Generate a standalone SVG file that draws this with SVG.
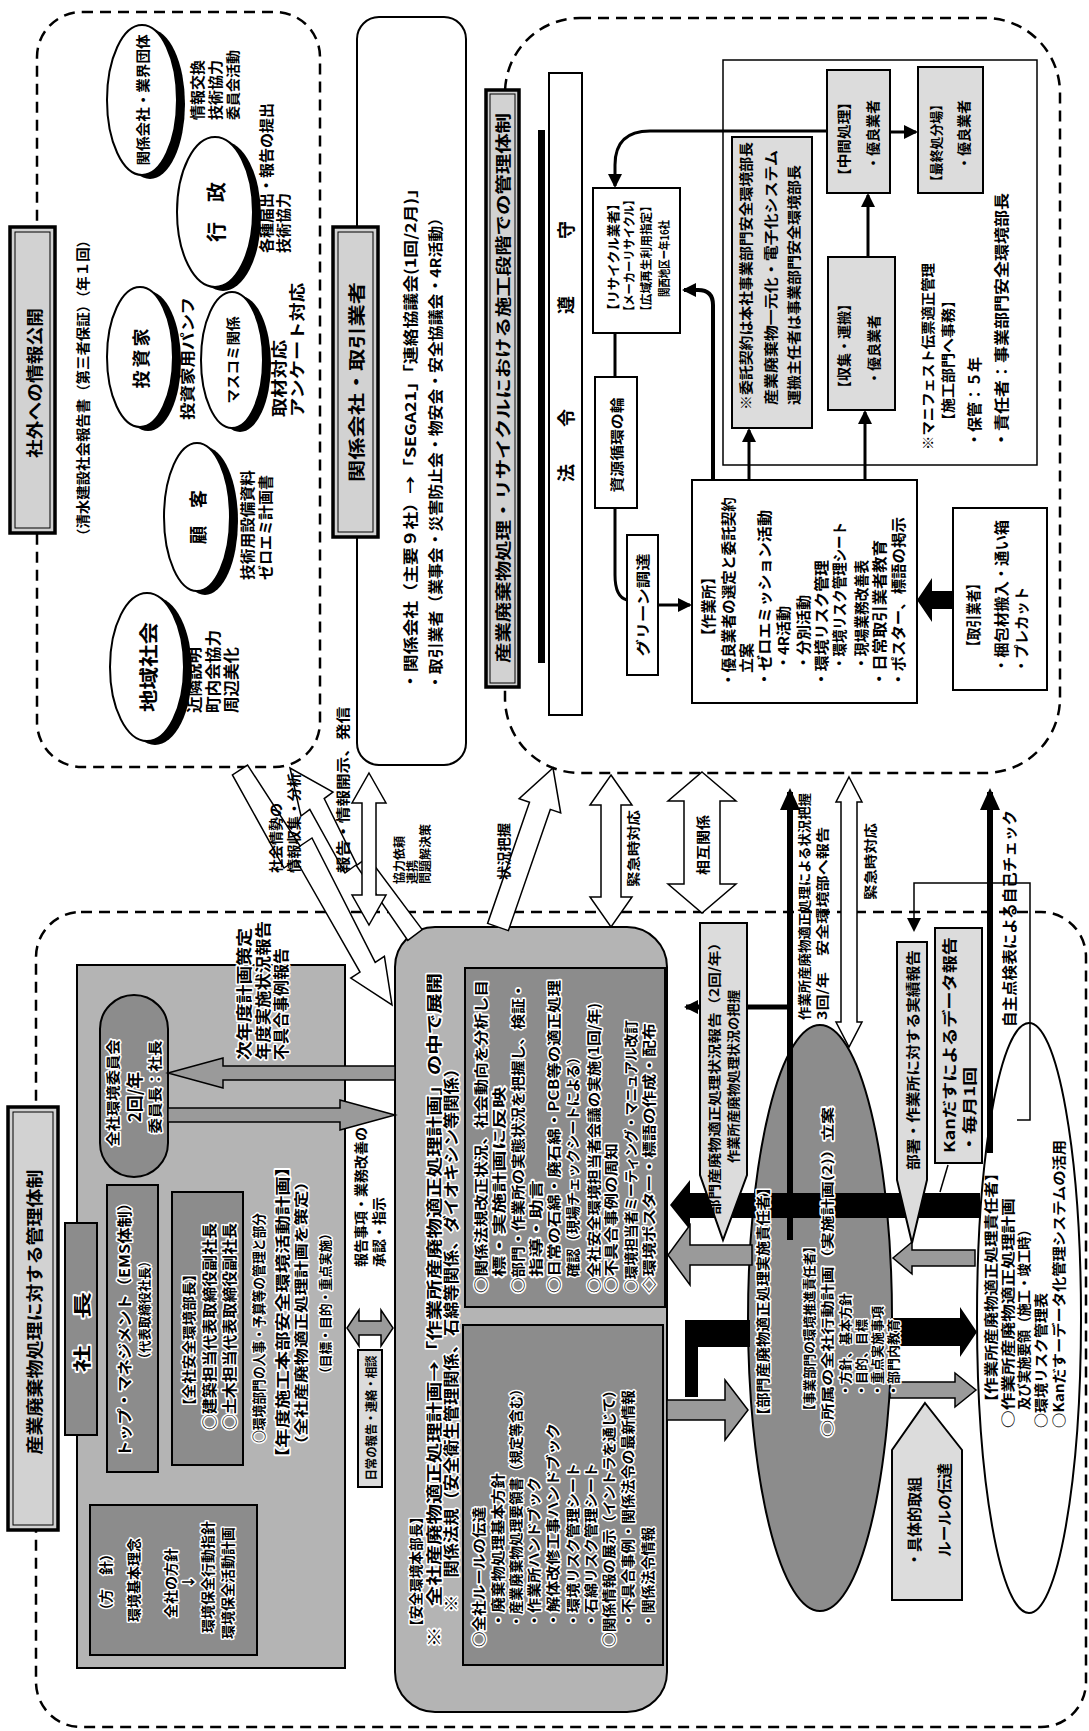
<svg xmlns="http://www.w3.org/2000/svg" width="1089" height="1731" viewBox="0 0 1089 1731">
<defs>
<style>
text{font-family:"Noto Sans CJK JP","Noto Sans CJK SC",sans-serif;font-weight:700;fill:#000;dominant-baseline:central}
.h text{stroke:#fff;stroke-width:3;paint-order:stroke;stroke-linejoin:round}
.dash{fill:none;stroke:#000;stroke-width:2.5;stroke-dasharray:11 7}
.box{fill:#fff;stroke:#000;stroke-width:2}
.lt{fill:#dcdcdc;stroke:#000;stroke-width:2}
.md{fill:#b4b4b4;stroke:#000;stroke-width:2}
.dk{fill:#8c8c8c;stroke:#000;stroke-width:2}
.ttl{fill:#d2d2d2;stroke:#000;stroke-width:3.5}
.ttli{fill:none;stroke:#000;stroke-width:1}
.ln{fill:none;stroke:#000;stroke-width:3}
.thin{fill:none;stroke:#000;stroke-width:1.5}
.wa{fill:#fff;stroke:#000;stroke-width:1.5}
.ga{fill:#9a9a9a;stroke:#000;stroke-width:1.5}
</style>
<marker id="ah" markerUnits="userSpaceOnUse" markerWidth="14" markerHeight="14" refX="12" refY="7" orient="auto"><path d="M0,0 L14,7 L0,14 z"/></marker>
<marker id="ahL" markerUnits="userSpaceOnUse" markerWidth="22" markerHeight="20" refX="18" refY="10" orient="auto"><path d="M0,0 L22,10 L0,20 z"/></marker>
</defs>
<rect width="1089" height="1731" fill="#fff"/>

<!-- ===== Region A : 社外への情報公開 ===== -->
<g id="regionA-frame"><rect class="dash" x="37" y="12" width="283" height="755" rx="45"/></g>
<g id="title-shagai">
<rect class="ttl" x="10" y="227" width="45" height="306"/><rect class="ttli" x="15" y="232" width="35" height="296"/>
<g transform="rotate(-90)"><text x="-383" y="33" font-size="17" text-anchor="middle" textLength="150" lengthAdjust="spacingAndGlyphs">社外への情報公開</text></g>
</g>
<g id="note-report"><g transform="rotate(-90)"><text x="-543" y="82" font-size="14" textLength="310" lengthAdjust="spacingAndGlyphs">（清水建設社会報告書（第三者保証）（年１回）</text></g></g>

<g id="n-kankeigaisha">
<ellipse cx="150" cy="104" rx="35" ry="75"/><ellipse class="box" cx="142" cy="100" rx="35" ry="75"/>
<g transform="rotate(-90)">
<text x="-100" y="142" font-size="14" text-anchor="middle" textLength="131" lengthAdjust="spacingAndGlyphs">関係会社・業界団体</text>
<text x="-120" y="196" font-size="15">情報交換</text>
<text x="-120" y="214" font-size="15">技術協力</text>
<text x="-120" y="232" font-size="14">委員会活動</text>
</g></g>
<g id="n-gyousei">
<ellipse cx="223" cy="216" rx="38" ry="75"/><ellipse class="box" cx="215" cy="212" rx="38" ry="75"/>
<g transform="rotate(-90)">
<text x="-212" y="215" font-size="20" text-anchor="middle">行　政</text>
<text x="-253" y="265" font-size="15" textLength="150" lengthAdjust="spacingAndGlyphs">各種届出・報告の提出</text>
<text x="-253" y="282" font-size="15">技術協力</text>
</g></g>
<g id="n-toushika">
<ellipse cx="148" cy="361" rx="33" ry="70"/><ellipse class="box" cx="140" cy="357" rx="33" ry="70"/>
<g transform="rotate(-90)">
<text x="-357" y="140" font-size="18" text-anchor="middle" letter-spacing="3">投資家</text>
<text x="-420" y="186" font-size="15" textLength="123" lengthAdjust="spacingAndGlyphs">投資家用パンフ</text>
</g></g>
<g id="n-masukomi">
<ellipse cx="240" cy="364" rx="31" ry="68"/><ellipse class="box" cx="232" cy="360" rx="31" ry="68"/>
<g transform="rotate(-90)">
<text x="-360" y="232" font-size="14" text-anchor="middle" textLength="87" lengthAdjust="spacingAndGlyphs">マスコミ関係</text>
<text x="-417" y="278" font-size="16" textLength="77" lengthAdjust="spacingAndGlyphs">取材対応</text>
<text x="-417" y="296" font-size="16" textLength="134" lengthAdjust="spacingAndGlyphs">アンケート対応</text>
</g></g>
<g id="n-kokyaku">
<ellipse cx="205" cy="521" rx="33" ry="74"/><ellipse class="box" cx="197" cy="517" rx="33" ry="74"/>
<g transform="rotate(-90)">
<text x="-517" y="197" font-size="18" text-anchor="middle">顧　客</text>
<text x="-580" y="246" font-size="15" textLength="110" lengthAdjust="spacingAndGlyphs">技術用設備資料</text>
<text x="-580" y="264" font-size="15" textLength="105" lengthAdjust="spacingAndGlyphs">ゼロエミ計画書</text>
</g></g>
<g id="n-chiiki">
<ellipse cx="155" cy="671" rx="37" ry="74"/><ellipse class="box" cx="147" cy="667" rx="37" ry="74"/>
<g transform="rotate(-90)">
<text x="-667" y="147" font-size="19" text-anchor="middle" textLength="90" lengthAdjust="spacingAndGlyphs">地域社会</text>
<text x="-713" y="193" font-size="16" textLength="66" lengthAdjust="spacingAndGlyphs">近隣説明</text>
<text x="-713" y="212" font-size="16" textLength="83" lengthAdjust="spacingAndGlyphs">町内会協力</text>
<text x="-713" y="230" font-size="16" textLength="66" lengthAdjust="spacingAndGlyphs">周辺美化</text>
</g></g>

<!-- ===== Region B : 関係会社・取引業者 ===== -->
<g id="n-torihiki-frame"><rect class="box" x="357" y="17" width="109" height="748" rx="22"/>
<g transform="rotate(-90)">
<text x="-690" y="409" font-size="15" textLength="510" lengthAdjust="spacingAndGlyphs">・関係会社（主要９社）→「SEGA21」「連絡協議会(1回/2月)」</text>
<text x="-690" y="434" font-size="15" textLength="480" lengthAdjust="spacingAndGlyphs">・取引業者（業事会・災害防止会・物安会・安全協議会・4R活動）</text>
</g></g>
<g id="title-kankei">
<rect class="ttl" x="333" y="227" width="45" height="310"/><rect class="ttli" x="338" y="232" width="35" height="300"/>
<g transform="rotate(-90)"><text x="-382" y="355" font-size="17" text-anchor="middle" textLength="200" lengthAdjust="spacingAndGlyphs">関係会社・取引業者</text></g>
</g>

<!-- ===== Region C : 施工段階での管理体制 ===== -->
<g id="regionC-frame"><rect class="dash" x="505" y="18" width="555" height="755" rx="75"/></g>
<g id="title-sekou">
<rect class="ttl" x="486" y="90" width="33" height="597"/><rect class="ttli" x="490" y="94" width="25" height="589"/>
<g transform="rotate(-90)"><text x="-388" y="502" font-size="16" text-anchor="middle" textLength="550" lengthAdjust="spacingAndGlyphs">産業廃棄物処理・リサイクルにおける施工段階での管理体制</text></g>
</g>
<g id="bar-c"><rect x="538" y="130" width="7" height="533"/></g>
<g id="n-hourei">
<rect class="box" x="549" y="73" width="33" height="642"/>
<g transform="rotate(-90)">
<text x="-473" y="565" font-size="18" text-anchor="middle">法</text>
<text x="-418" y="565" font-size="18" text-anchor="middle">令</text>
<text x="-305" y="565" font-size="18" text-anchor="middle">遵</text>
<text x="-230" y="565" font-size="18" text-anchor="middle">守</text>
</g></g>
<g id="n-recycle">
<rect class="box" x="593" y="188" width="87" height="145"/>
<g transform="rotate(-90)">
<text x="-317" y="612" font-size="13" textLength="120" lengthAdjust="spacingAndGlyphs">【リサイクル業者】</text>
<text x="-317" y="628" font-size="12" textLength="123" lengthAdjust="spacingAndGlyphs">【メーカーリサイクル】</text>
<text x="-317" y="645" font-size="12" textLength="117" lengthAdjust="spacingAndGlyphs">【広域再生利用指定】</text>
<text x="-297" y="663" font-size="12" textLength="77" lengthAdjust="spacingAndGlyphs">関西地区ー年16社</text>
</g></g>
<g id="n-junkan">
<rect class="box" x="595" y="377" width="42" height="131"/>
<g transform="rotate(-90)"><text x="-445" y="616" font-size="14" text-anchor="middle" textLength="95" lengthAdjust="spacingAndGlyphs">資源循環の輪</text></g>
</g>
<g id="n-green">
<rect class="box" x="627" y="535" width="31" height="140"/>
<g transform="rotate(-90)"><text x="-605" y="642" font-size="14" text-anchor="middle" textLength="103" lengthAdjust="spacingAndGlyphs">グリーン調達</text></g>
</g>
<g id="n-sagyousho">
<rect class="box" x="692" y="480" width="225" height="223"/>
<g transform="rotate(-90)">
<text x="-643" y="707" font-size="15" textLength="73" lengthAdjust="spacingAndGlyphs">【作業所】</text>
<text x="-687" y="727" font-size="15" textLength="190" lengthAdjust="spacingAndGlyphs">・優良業者の選定と委託契約</text>
<text x="-673" y="745" font-size="15">立案</text>
<text x="-687" y="763" font-size="15" textLength="177" lengthAdjust="spacingAndGlyphs">・ゼロエミッション活動</text>
<text x="-670" y="782" font-size="15">・4R活動</text>
<text x="-670" y="802" font-size="15">・分別活動</text>
<text x="-687" y="820" font-size="15" textLength="127" lengthAdjust="spacingAndGlyphs">・環境リスク管理</text>
<text x="-670" y="838" font-size="15" textLength="148" lengthAdjust="spacingAndGlyphs">・環境リスク管理シート</text>
<text x="-670" y="860" font-size="15" textLength="110" lengthAdjust="spacingAndGlyphs">・現場業務改善表</text>
<text x="-687" y="878" font-size="15" textLength="147" lengthAdjust="spacingAndGlyphs">・日常取引業者教育</text>
<text x="-687" y="897" font-size="15" textLength="170" lengthAdjust="spacingAndGlyphs">・ポスター、標語の掲示</text>
</g></g>
<g id="n-torihikigyousha">
<rect class="box" x="953" y="508" width="94" height="182"/>
<g transform="rotate(-90)">
<text x="-653" y="972" font-size="15" textLength="76" lengthAdjust="spacingAndGlyphs">【取引業者】</text>
<text x="-673" y="1000" font-size="15" textLength="153" lengthAdjust="spacingAndGlyphs">・梱包材搬入・通い箱</text>
<text x="-673" y="1020" font-size="15" textLength="86" lengthAdjust="spacingAndGlyphs">・プレカット</text>
</g></g>
<g id="n-itaku-frame"><rect fill="#fff" stroke="#000" stroke-width="1.5" x="723" y="60" width="314" height="405"/>
<g transform="rotate(-90)">
<text x="-450" y="927" font-size="14" textLength="187" lengthAdjust="spacingAndGlyphs">※マニフェスト伝票適正管理</text>
<text x="-428" y="947" font-size="14" textLength="135" lengthAdjust="spacingAndGlyphs">【施工部門へ事務】</text>
<text x="-447" y="973" font-size="15" textLength="90" lengthAdjust="spacingAndGlyphs">・保管：５年</text>
<text x="-448" y="1000" font-size="15" textLength="255" lengthAdjust="spacingAndGlyphs">・責任者：事業部門安全環境部長</text>
</g></g>
<g id="n-itaku">
<rect class="lt" x="732" y="137" width="80" height="291"/>
<g transform="rotate(-90)">
<text x="-410" y="745" font-size="14" textLength="268" lengthAdjust="spacingAndGlyphs">※委託契約は本社事業部門安全環境部長</text>
<text x="-405" y="770" font-size="14" textLength="255" lengthAdjust="spacingAndGlyphs">産業廃棄物一元化・電子化システム</text>
<text x="-405" y="793" font-size="14" textLength="240" lengthAdjust="spacingAndGlyphs">運搬主任者は事業部門安全環境部長</text>
</g></g>
<g id="n-chukan">
<rect class="lt" x="827" y="70" width="63" height="123"/>
<g transform="rotate(-90)">
<text x="-183" y="843" font-size="14" textLength="88" lengthAdjust="spacingAndGlyphs">【中間処理】</text>
<text x="-170" y="872" font-size="14">・優良業者</text>
</g></g>
<g id="n-saishu">
<rect class="lt" x="918" y="67" width="65" height="126"/>
<g transform="rotate(-90)">
<text x="-188" y="935" font-size="13" textLength="90" lengthAdjust="spacingAndGlyphs">【最終処分場】</text>
<text x="-170" y="963" font-size="14">・優良業者</text>
</g></g>
<g id="n-shushu">
<rect class="lt" x="828" y="257" width="67" height="153"/>
<g transform="rotate(-90)">
<text x="-395" y="843" font-size="14" textLength="98" lengthAdjust="spacingAndGlyphs">【収集・運搬】</text>
<text x="-385" y="873" font-size="14">・優良業者</text>
</g></g>

<!-- ===== Region D : 管理体制 ===== -->
<g id="regionD-frame"><rect class="dash" x="36" y="912" width="1050" height="815" rx="45"/></g>
<g id="title-kanri">
<rect class="ttl" x="8" y="1107" width="50" height="423"/><rect class="ttli" x="13" y="1112" width="40" height="413"/>
<g transform="rotate(-90)"><text x="-1312" y="33" font-size="17" text-anchor="middle" textLength="285" lengthAdjust="spacingAndGlyphs">産業廃棄物処理に対する管理体制</text></g>
</g>
<g id="n-keiei" class="h">
<rect class="md" x="77" y="965" width="268" height="703"/>
<g transform="rotate(-90)">
<text x="-1443" y="258" font-size="14" textLength="230" lengthAdjust="spacingAndGlyphs">○環境部門の人事・予算等の管理と部分</text>
<text x="-1467" y="281" font-size="15" textLength="310" lengthAdjust="spacingAndGlyphs">【年度施工本部安全環境活動計画】</text>
<text x="-1453" y="300" font-size="14" textLength="280" lengthAdjust="spacingAndGlyphs">（全社産廃物適正処理計画を策定）</text>
<text x="-1380" y="324" font-size="13" textLength="153" lengthAdjust="spacingAndGlyphs">（目標・目的・重点実施）</text>
<text x="-1060" y="243" font-size="16" textLength="132" lengthAdjust="spacingAndGlyphs">次年度計画策定</text>
<text x="-1060" y="262" font-size="16" textLength="139" lengthAdjust="spacingAndGlyphs">年度実施状況報告</text>
<text x="-1060" y="280" font-size="16" textLength="112" lengthAdjust="spacingAndGlyphs">不具合事例報告</text>
</g></g>
<g id="n-shachou" class="h">
<rect class="dk" x="65" y="1223" width="32" height="212"/>
<g transform="rotate(-90)"><text x="-1332" y="81" font-size="18" text-anchor="middle" textLength="80" lengthAdjust="spacingAndGlyphs">社　長</text></g>
</g>
<g id="n-top" class="h">
<rect class="dk" x="107" y="1185" width="51" height="287"/>
<g transform="rotate(-90)">
<text x="-1457" y="123" font-size="15" textLength="262" lengthAdjust="spacingAndGlyphs">トップ・マネジメント（EMS体制）</text>
<text x="-1310" y="143" font-size="13" text-anchor="middle" textLength="110" lengthAdjust="spacingAndGlyphs">（代表取締役社長）</text>
</g></g>
<g id="n-zensha" class="h">
<rect class="dk" x="172" y="1192" width="71" height="273"/>
<g transform="rotate(-90)">
<text x="-1413" y="188" font-size="14" textLength="146" lengthAdjust="spacingAndGlyphs">【全社安全環境部長】</text>
<text x="-1430" y="208" font-size="15" textLength="207" lengthAdjust="spacingAndGlyphs">○建築担当代表取締役副社長</text>
<text x="-1430" y="228" font-size="15" textLength="207" lengthAdjust="spacingAndGlyphs">○土木担当代表取締役副社長</text>
</g></g>
<g id="n-iinkai" class="h">
<rect class="dk" x="100" y="995" width="68" height="182" rx="34"/>
<g transform="rotate(-90)">
<text x="-1093" y="112" font-size="14" text-anchor="middle" textLength="107" lengthAdjust="spacingAndGlyphs">全社環境委員会</text>
<text x="-1097" y="133" font-size="17" text-anchor="middle">2回/年</text>
<text x="-1087" y="154" font-size="14" text-anchor="middle" textLength="93" lengthAdjust="spacingAndGlyphs">委員長：社長</text>
</g></g>
<g id="n-houshin" class="h">
<rect class="dk" x="90" y="1505" width="167" height="150"/>
<g transform="rotate(-90)">
<text x="-1582" y="105" font-size="14" text-anchor="middle">（方　針）</text>
<text x="-1580" y="133" font-size="14" text-anchor="middle">環境基本理念</text>
<text x="-1583" y="170" font-size="14" text-anchor="middle">全社の方針</text>
<text x="-1582" y="187" font-size="14" text-anchor="middle">↓</text>
<text x="-1577" y="207" font-size="14" text-anchor="middle">環境保全行動指針</text>
<text x="-1583" y="227" font-size="14" text-anchor="middle">環境保全活動計画</text>
</g></g>
<g id="n-nichijou">
<rect class="lt" x="358" y="1350" width="24" height="137"/>
<g transform="rotate(-90)"><text x="-1418" y="370" font-size="12" text-anchor="middle" textLength="125" lengthAdjust="spacingAndGlyphs">日常の報告・連絡・相談</text></g>
</g>
<g id="n-honbu" class="h">
<rect class="md" x="395" y="927" width="272" height="785" rx="40"/>
<g transform="rotate(-90)">
<text x="-1633" y="415" font-size="14" textLength="123" lengthAdjust="spacingAndGlyphs">【安全環境本部長】</text>
<text x="-1647" y="433" font-size="16" textLength="674" lengthAdjust="spacingAndGlyphs">※　全社産廃物適正処理計画→「作業所産廃物適正処理計画」の中で展開</text>
<text x="-1612" y="450" font-size="16" textLength="552" lengthAdjust="spacingAndGlyphs">※　関係法規（安全衛生管理関係、石綿等関係、ダイオキシン等関係）</text>
</g>
<rect class="dk" x="465" y="968" width="200" height="339"/>
<rect class="dk" x="463" y="1325" width="200" height="340"/>
<g transform="rotate(-90)">
<text x="-1293" y="480" font-size="14" textLength="313" lengthAdjust="spacingAndGlyphs">○関係法規改正状況、社会動向を分析し目</text>
<text x="-1277" y="498" font-size="14" textLength="190" lengthAdjust="spacingAndGlyphs">標・実施計画に反映</text>
<text x="-1293" y="517" font-size="14" textLength="310" lengthAdjust="spacingAndGlyphs">○部門・作業所の実態状況を把握し、検証・</text>
<text x="-1277" y="535" font-size="14" textLength="97" lengthAdjust="spacingAndGlyphs">指導・助言</text>
<text x="-1293" y="553" font-size="14" textLength="313" lengthAdjust="spacingAndGlyphs">○日常の石綿・廃石綿・PCB等の適正処理</text>
<text x="-1277" y="572" font-size="14" textLength="227" lengthAdjust="spacingAndGlyphs">確認（現場チェックシートによる）</text>
<text x="-1293" y="593" font-size="14" textLength="290" lengthAdjust="spacingAndGlyphs">○全社安全環境担当者会議の実施(1回/年)</text>
<text x="-1293" y="610" font-size="14" textLength="150" lengthAdjust="spacingAndGlyphs">○不具合事例の周知</text>
<text x="-1293" y="630" font-size="14" textLength="273" lengthAdjust="spacingAndGlyphs">○環境担当者ミーティング・マニュアル改訂</text>
<text x="-1293" y="648" font-size="14" textLength="270" lengthAdjust="spacingAndGlyphs">◇環境ポスター・標語の作成・配布</text>
<text x="-1647" y="478" font-size="14" textLength="140" lengthAdjust="spacingAndGlyphs">○全社ルールの伝達</text>
<text x="-1628" y="497" font-size="14" textLength="155" lengthAdjust="spacingAndGlyphs">・廃棄物処理基本方針</text>
<text x="-1628" y="515" font-size="14" textLength="246" lengthAdjust="spacingAndGlyphs">・産業廃棄物処理要領書（規定等含む）</text>
<text x="-1628" y="533" font-size="14" textLength="151" lengthAdjust="spacingAndGlyphs">・作業所ハンドブック</text>
<text x="-1628" y="552" font-size="14" textLength="205" lengthAdjust="spacingAndGlyphs">・解体改修工事ハンドブック</text>
<text x="-1628" y="572" font-size="14" textLength="165" lengthAdjust="spacingAndGlyphs">・環境リスク管理シート</text>
<text x="-1628" y="590" font-size="14" textLength="165" lengthAdjust="spacingAndGlyphs">・石綿リスク管理シート</text>
<text x="-1647" y="608" font-size="14" textLength="264" lengthAdjust="spacingAndGlyphs">○関係情報の展示（イントラを通じて）</text>
<text x="-1628" y="627" font-size="14" textLength="238" lengthAdjust="spacingAndGlyphs">・不具合事例・関係法令の最新情報</text>
<text x="-1628" y="647" font-size="14" textLength="101" lengthAdjust="spacingAndGlyphs">・関係法令情報</text>
</g></g>
<g id="n-bumon-ellipse"><ellipse class="dk" cx="820" cy="1318" rx="72" ry="293"/></g>
<g id="n-sagyousho-ellipse"><ellipse class="box" cx="1029" cy="1318" rx="52" ry="295"/></g>

<!-- ===== Connectors ===== -->
<g id="connectors">
<line class="ln" x1="615" y1="333" x2="615" y2="377"/>
<path class="ln" d="M615,508 V575 Q615,597 627,600"/>
<line class="ln" x1="658" y1="605" x2="690" y2="605" marker-end="url(#ah)"/>
<line class="ln" x1="749" y1="480" x2="749" y2="430" marker-end="url(#ah)"/>
<line class="ln" x1="865" y1="480" x2="865" y2="412" marker-end="url(#ah)"/>
<line class="ln" x1="868" y1="257" x2="868" y2="195" marker-end="url(#ah)"/>
<line class="ln" x1="890" y1="132" x2="916" y2="132" marker-end="url(#ah)"/>
<path class="ln" d="M827,131 H650 Q615,131 615,165 V186" marker-end="url(#ah)"/>
<path fill="none" stroke="#000" stroke-width="4" d="M713,480 V305 Q713,290 698,290 H684" marker-end="url(#ah)"/>
<polygon points="953,591 932,591 932,578 917,600 932,622 932,609 953,609"/>
<polygon class="wa" points="247.6,765.1 300,846 312,838 375.2,962.3 384.4,956.3 392,1005 350.8,978.1 360,972.1 296,860 284,868 232.4,774.9"/>
<polygon class="wa" points="422.2,929.6 368,857 357,865 324.2,798.6 333,792 290,768 301,816 309.8,809.4 345,873 356,865 407.8,940.4"/>
<polygon class="wa" points="369,773 386,803 376,803 376,895 386,895 369,925 352,895 362,895 362,803 352,803"/>
<polygon class="wa" points="508.4,930.6 550.3,809.4 560.7,813 553,768 519.1,798.6 529.5,802.2 487.6,923.4"/>
<polygon class="wa" points="611,775 632,805 621,805 621,897 632,897 611,927 590,897 601,897 601,805 590,805"/>
<polygon class="wa" points="702,772 736,801 720,801 720,884 736,884 702,913 668,884 684,884 684,801 668,801"/>
<line fill="none" stroke="#000" stroke-width="6" x1="790" y1="1240" x2="790" y2="792" marker-end="url(#ahL)"/>
<line fill="none" stroke="#000" stroke-width="5" x1="790" y1="1007" x2="686" y2="1007" marker-end="url(#ah)"/>
<polygon class="wa" points="849,777 862,802 857,802 857,1022 862,1022 849,1047 836,1022 841,1022 841,802 836,802"/>
<line fill="none" stroke="#000" stroke-width="6" x1="990" y1="1153" x2="990" y2="792" marker-end="url(#ahL)"/>
<path class="thin" d="M1017,1120 H1030 V883 H914 V930" marker-end="url(#ah)"/>
<line class="thin" x1="948" y1="1165" x2="940" y2="1192"/>
<polygon points="980,1193 690,1193 690,1180 670,1205 690,1230 690,1218 980,1218"/>
<polygon class="ga" points="975,1250 912,1250 912,1242 893,1258 912,1274 912,1266 975,1266"/>
<polygon class="ga" points="752,1245 690,1245 690,1225 668,1255 690,1285 690,1265 752,1265"/>
<polygon points="685,1320 750,1320 750,1347 698,1347 698,1397 685,1397"/>
<polygon class="ga" points="667,1400 725,1400 725,1380 748,1410 725,1440 725,1420 667,1420"/>
<polygon points="890,1318 960,1318 960,1307 977,1332 960,1357 960,1346 890,1346"/>
<polygon class="ga" points="890,1382 955,1382 955,1373 976,1390 955,1407 955,1398 890,1398"/>
<polygon class="ga" points="168,1073 223,1058 223,1066 395,1066 395,1080 223,1080 223,1088"/>
<polygon class="ga" points="395,1115 340,1100 340,1108 168,1108 168,1122 340,1122 340,1130"/>
<polygon class="ga" points="347,1328 359,1310 359,1321 381,1321 381,1310 393,1328 381,1346 381,1335 359,1335 359,1346"/>
</g>

<g id="connector-labels"><g transform="rotate(-90)">
<text x="-873" y="275" font-size="14" textLength="70" lengthAdjust="spacingAndGlyphs">社会情勢の</text>
<text x="-873" y="293" font-size="14" textLength="100" lengthAdjust="spacingAndGlyphs">情報収集・分析</text>
<text x="-873" y="342" font-size="14" textLength="166" lengthAdjust="spacingAndGlyphs">報告・情報開示、発信</text>
<text x="-884" y="398" font-size="12">協力依頼</text>
<text x="-884" y="411" font-size="12">連携</text>
<text x="-884" y="424" font-size="12">問題解決策</text>
<text x="-880" y="503" font-size="14" textLength="57" lengthAdjust="spacingAndGlyphs">状況把握</text>
<text x="-887" y="632" font-size="13" textLength="77" lengthAdjust="spacingAndGlyphs">緊急時対応</text>
<text x="-875" y="702" font-size="14" textLength="60" lengthAdjust="spacingAndGlyphs">相互関係</text>
<text x="-1020" y="803" font-size="13" textLength="227" lengthAdjust="spacingAndGlyphs">作業所産廃物適正処理による状況把握</text>
<text x="-1020" y="821" font-size="13" textLength="193" lengthAdjust="spacingAndGlyphs">3回/年　安全環境部へ報告</text>
<text x="-900" y="869" font-size="13" textLength="77" lengthAdjust="spacingAndGlyphs">緊急時対応</text>
<text x="-1027" y="1008" font-size="15" textLength="217" lengthAdjust="spacingAndGlyphs">自主点検表による自己チェック</text>
<text x="-1267" y="360" font-size="14" textLength="140" lengthAdjust="spacingAndGlyphs">報告事項・業務改善の</text>
<text x="-1267" y="378" font-size="14">承認・指示</text>
</g></g>

<g id="n-bumon-text" class="h"><g transform="rotate(-90)">
<text x="-1423" y="762" font-size="14" textLength="243" lengthAdjust="spacingAndGlyphs">【部門産廃物適正処理実施責任者】</text>
<text x="-1417" y="808" font-size="13" textLength="177" lengthAdjust="spacingAndGlyphs">【事業部門の環境推進責任者】</text>
<text x="-1437" y="826" font-size="13" textLength="330" lengthAdjust="spacingAndGlyphs">○所属の全社行動計画（実施計画(2)）立案</text>
<text x="-1397" y="844" font-size="13">・方針、基本方針</text>
<text x="-1397" y="860" font-size="13">・目的、目標</text>
<text x="-1397" y="876" font-size="13">・重点実施事項</text>
<text x="-1397" y="892" font-size="13">・部門内教育</text>
</g></g>
<g id="n-sagyousho-text"><g transform="rotate(-90)">
<text x="-1410" y="990" font-size="14" textLength="245" lengthAdjust="spacingAndGlyphs">【作業所産廃物適正処理責任者】</text>
<text x="-1428" y="1007" font-size="14" textLength="230" lengthAdjust="spacingAndGlyphs">○作業所産廃物適正処理計画</text>
<text x="-1410" y="1023" font-size="14" textLength="187" lengthAdjust="spacingAndGlyphs">及び実施要領（施工・竣工時）</text>
<text x="-1428" y="1040" font-size="14" textLength="135" lengthAdjust="spacingAndGlyphs">○環境リスク管理表</text>
<text x="-1428" y="1058" font-size="14" textLength="288" lengthAdjust="spacingAndGlyphs">○Kanだすーデータ化管理システムの活用</text>
</g></g>
<g id="n-bumon-report">
<polygon class="lt" points="700,923 747,923 747,1175 723,1240 700,1175"/>
<g transform="rotate(-90)">
<text x="-1215" y="713" font-size="13" textLength="280" lengthAdjust="spacingAndGlyphs">部門産廃物適正処理状況報告（2回/年）</text>
<text x="-1163" y="732" font-size="13" textLength="173" lengthAdjust="spacingAndGlyphs">作業所産廃物処理状況の把握</text>
</g></g>
<g id="n-jisseki">
<polygon class="lt" points="897,942 927,942 927,1180 912,1243 897,1180"/>
<g transform="rotate(-90)"><text x="-1170" y="912" font-size="14" textLength="220" lengthAdjust="spacingAndGlyphs">部署・作業所に対する実績報告</text></g>
</g>
<g id="n-kandasu">
<rect class="lt" x="935" y="928" width="47" height="235"/>
<g transform="rotate(-90)">
<text x="-1153" y="948" font-size="15" textLength="216" lengthAdjust="spacingAndGlyphs">Kanだすによるデータ報告</text>
<text x="-1153" y="968" font-size="15" textLength="86" lengthAdjust="spacingAndGlyphs">・毎月1回</text>
</g></g>
<g id="n-rule">
<polygon class="lt" points="925,1403 962,1450 962,1600 892,1600 892,1450"/>
<g transform="rotate(-90)">
<text x="-1567" y="913" font-size="15" textLength="90" lengthAdjust="spacingAndGlyphs">・具体的取組</text>
<text x="-1557" y="943" font-size="15" textLength="94" lengthAdjust="spacingAndGlyphs">ルールの伝達</text>
</g></g>
</svg>
